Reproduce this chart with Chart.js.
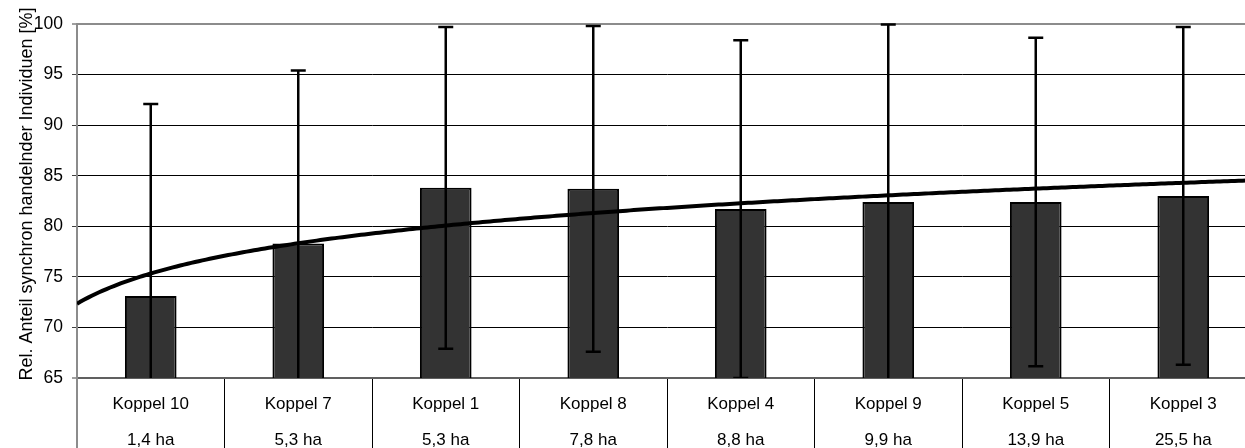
<!DOCTYPE html>
<html>
<head>
<meta charset="utf-8">
<title>Synchron handelnde Individuen je Koppel</title>
<script src="https://cdn.jsdelivr.net/npm/chart.js@4/dist/chart.umd.min.js"></script>
<style>
  html, body { margin: 0; padding: 0; background: #ffffff; overflow: hidden; }
  #wrap { width: 1245px; height: 448px; overflow: hidden; }
  canvas { display: block; }
</style>
</head>
<body>
<div id="wrap"><canvas id="chart" width="1257" height="448"></canvas></div>
<script>
// Paddocks, ordered by size
const categories = ['Koppel 10', 'Koppel 7', 'Koppel 1', 'Koppel 8', 'Koppel 4', 'Koppel 9', 'Koppel 5', 'Koppel 3'];
const areas = ['1,4 ha', '5,3 ha', '5,3 ha', '7,8 ha', '8,8 ha', '9,9 ha', '13,9 ha', '25,5 ha'];

// Mean relative share of synchronously acting individuals [%] and its standard deviation
const meanShare = [73.1, 78.3, 83.8, 83.7, 81.7, 82.4, 82.4, 83.0];
const sdShare = [19.0, 17.1, 15.9, 16.1, 16.7, 17.55, 16.25, 16.7];

// Value axis
const yTickValues = [65, 70, 75, 80, 85, 90, 95, 100];

const FONT = '"Liberation Sans", Arial, Helvetica, sans-serif';
const AXIS_TITLE = 'Rel. Anteil synchron handelnder Individuen [%]';

// Logarithmic trend (least squares of y on ln(x), x = 1..n)
function logFit(ys) {
  const n = ys.length;
  const lx = ys.map((_, i) => Math.log(i + 1));
  const mx = lx.reduce((s, v) => s + v, 0) / n;
  const my = ys.reduce((s, v) => s + v, 0) / n;
  let sxy = 0, sxx = 0;
  for (let i = 0; i < n; i++) {
    sxy += (lx[i] - mx) * (ys[i] - my);
    sxx += (lx[i] - mx) * (lx[i] - mx);
  }
  const a = sxy / sxx;
  return { a: a, b: my - a * mx };
}
const fit = logFit(meanShare);
const trendPoints = [];
for (let k = 0; k <= 320; k++) {
  const x = 0.5 + k * (categories.length / 320);
  trendPoints.push({ x: x, y: fit.a * Math.log(x) + fit.b });
}

const labels = categories.map((c, i) => [c, areas[i]]);

// Error bars (± SD), clipped to the plot area
const errorBars = {
  id: 'errorBars',
  afterDatasetDraw(chart, args) {
    if (args.index !== 0) return;
    const { ctx, chartArea } = chart;
    const y = chart.scales.y;
    const meta = chart.getDatasetMeta(0);
    ctx.save();
    ctx.beginPath();
    ctx.rect(chartArea.left, chartArea.top - 3, chartArea.right - chartArea.left, chartArea.bottom - chartArea.top + 3);
    ctx.clip();
    ctx.strokeStyle = '#000000';
    ctx.lineWidth = 2.5;
    ctx.lineCap = 'butt';
    meta.data.forEach((bar, i) => {
      const hi = meanShare[i] + sdShare[i];
      const lo = meanShare[i] - sdShare[i];
      const yHi = y.getPixelForValue(Math.min(hi, y.max));
      const yLo = y.getPixelForValue(Math.max(lo, y.min));
      const x = bar.x;
      ctx.beginPath();
      ctx.moveTo(x, yHi);
      ctx.lineTo(x, yLo);
      const half = 7.5;
      if (hi <= y.max + 0.05) { ctx.moveTo(x - half, yHi); ctx.lineTo(x + half, yHi); }
      if (lo >= y.min) { ctx.moveTo(x - half, yLo); ctx.lineTo(x + half, yLo); }
      ctx.stroke();
    });
    ctx.restore();
  }
};

// Rotated title of the value axis
const axisTitle = {
  id: 'axisTitle',
  afterDraw(chart) {
    const { ctx } = chart;
    ctx.save();
    ctx.translate(27, 194);
    ctx.rotate(-Math.PI / 2);
    ctx.font = '18px ' + FONT;
    ctx.fillStyle = '#000000';
    ctx.textAlign = 'center';
    ctx.textBaseline = 'middle';
    ctx.fillText(AXIS_TITLE, 0, 0);
    ctx.restore();
  }
};

new Chart(document.getElementById('chart'), {
  type: 'bar',
  data: {
    labels: labels,
    datasets: [
      {
        type: 'bar',
        data: meanShare,
        backgroundColor: '#333333',
        borderColor: '#000000',
        borderWidth: 2,
        borderSkipped: false,
        grouped: false,
        barPercentage: 0.35,
        categoryPercentage: 1.0,
        xAxisID: 'x',
        yAxisID: 'y',
        order: 1
      },
      {
        type: 'line',
        data: trendPoints,
        borderColor: '#000000',
        borderWidth: 4,
        pointRadius: 0,
        tension: 0,
        fill: false,
        xAxisID: 'xTrend',
        yAxisID: 'y',
        order: 0
      }
    ]
  },
  options: {
    responsive: false,
    devicePixelRatio: 1,
    animation: false,
    events: [],
    layout: { padding: { top: 24, left: 0, right: 0, bottom: 0 } },
    plugins: { legend: { display: false }, tooltip: { enabled: false }, title: { display: false } },
    scales: {
      x: {
        type: 'category',
        position: 'bottom',
        offset: true,
        grid: {
          offset: true,
          drawOnChartArea: false,
          drawTicks: true,
          tickLength: 70,
          color: (c) => (c.index === 0 ? '#8c8c8c' : '#000000'),
          lineWidth: (c) => (c.index === 0 ? 2 : 1)
        },
        border: { display: true, color: '#606060', width: 2 },
        ticks: {
          autoSkip: false,
          maxRotation: 0,
          minRotation: 0,
          padding: -62,
          color: '#000000',
          font: { family: FONT, size: 17, lineHeight: '36px' }
        },
        afterFit(scale) { scale.height = 70; }
      },
      xTrend: {
        type: 'linear',
        display: false,
        offset: false,
        grid: { offset: false },
        bounds: 'ticks',
        min: 0.5,
        max: 0.5 + categories.length
      },
      y: {
        type: 'linear',
        position: 'left',
        min: yTickValues[0],
        max: yTickValues[yTickValues.length - 1],
        afterBuildTicks(scale) { scale.ticks = yTickValues.map(v => ({ value: v })); },
        grid: {
          drawTicks: true,
          tickLength: 5,
          color: (c) => (c.tick && c.tick.value === 100 ? '#8c8c8c' : (c.tick && c.tick.value === 65 ? '#606060' : '#000000')),
          lineWidth: (c) => (c.tick && (c.tick.value === 100 || c.tick.value === 65) ? 2 : 1),
          tickColor: '#404040',
          tickWidth: 1
        },
        border: { display: true, color: '#8c8c8c', width: 2 },
        ticks: {
          padding: 9,
          color: '#000000',
          font: { family: FONT, size: 17.5 }
        },
        afterFit(scale) { scale.width = 77; }
      }
    }
  },
  plugins: [errorBars, axisTitle]
});
</script>
</body>
</html>
